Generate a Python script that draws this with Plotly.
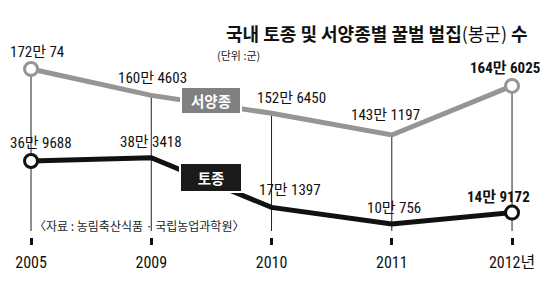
import plotly.graph_objects as go

# ---- data ----
years = ["2005", "2009", "2010", "2011", "2012"]
tick_labels = ["2005", "2009", "2010", "2011", "2012년"]
western = [1720074, 1604603, 1526450, 1431197, 1646025]   # 서양종
native = [369688, 383418, 171397, 100756, 149172]          # 토종


def fmt(v):
    return f"{v // 10000}만 {v % 10000}"


# ---- styles ----
NUM_FONT = "Liberation Sans Narrow, Roboto Condensed, Arial Narrow, Liberation Sans, Noto Sans CJK KR"
KR_FONT = "Noto Sans CJK KR, Noto Sans, sans-serif"
GRAY = "#959595"
BLACK = "#111111"

# axis ranges (broken-axis style: two y axes with matching scale)
y1_range = [752896, 2022043]
y2_range = [-181594, 1057722]
H = 290

fig = go.Figure()

# vertical guide lines (behind)
bottom_val = y1_range[1] - (231 / H) * (y1_range[1] - y1_range[0])
for i, w in enumerate(western):
    fig.add_shape(type="line", xref="x", yref="y", x0=i, x1=i, y0=w, y1=bottom_val,
                  line=dict(color="#222222", width=1), layer="below")

# lines
fig.add_trace(go.Scatter(x=years, y=western, mode="lines",
                         line=dict(color=GRAY, width=5), yaxis="y", hoverinfo="skip"))
fig.add_trace(go.Scatter(x=years, y=native, mode="lines",
                         line=dict(color=BLACK, width=5), yaxis="y2", hoverinfo="skip"))
# endpoint markers
fig.add_trace(go.Scatter(x=[years[0], years[-1]], y=[western[0], western[-1]], mode="markers",
                         marker=dict(size=13, color="white", line=dict(color=GRAY, width=3)),
                         yaxis="y", hoverinfo="skip"))
fig.add_trace(go.Scatter(x=[years[0], years[-1]], y=[native[0], native[-1]], mode="markers",
                         marker=dict(size=13, color="white", line=dict(color=BLACK, width=3)),
                         yaxis="y2", hoverinfo="skip"))

# value labels
w_shift = [(6, 17), (1, 17), (20, 15), (-6, 20), (-7, 18)]
n_shift = [(10, 18), (0, 16), (18, 17), (2, 16), (-14, 16)]
for i, v in enumerate(western):
    dx, dy = w_shift[i]
    bold = i == len(years) - 1
    fig.add_annotation(x=i, y=v, yref="y", text=(f"<b>{fmt(v)}</b>" if bold else fmt(v)),
                       showarrow=False, xshift=dx, yshift=dy,
                       font=dict(family=NUM_FONT, size=15, color="#111"))
for i, v in enumerate(native):
    dx, dy = n_shift[i]
    bold = i == len(years) - 1
    fig.add_annotation(x=i, y=v, yref="y2", text=(f"<b>{fmt(v)}</b>" if bold else fmt(v)),
                       showarrow=False, xshift=dx, yshift=dy,
                       font=dict(family=NUM_FONT, size=15, color="#111"))

# series badges
fig.add_annotation(x=1.5, y=(western[1] + western[2]) / 2, yref="y", text="<b>서양종</b>",
                   showarrow=False, yshift=4, bgcolor="#808080", bordercolor="white",
                   borderwidth=2, borderpad=2, font=dict(family=KR_FONT, size=14.5, color="white"),
                   width=54)
fig.add_annotation(x=1.5, y=(native[1] + native[2]) / 2, yref="y2", text="<b>토종</b>",
                   showarrow=False, yshift=5, bgcolor="#1a1a1a", bordercolor="white",
                   borderwidth=2, borderpad=3, font=dict(family=KR_FONT, size=14.5, color="white"),
                   width=54)

# title / subtitle / source
fig.add_annotation(xref="paper", yref="paper", x=530 / 548, y=1 - 33 / H, xanchor="right",
                   yanchor="middle", showarrow=False,
                   text="<b>국내 토종 및 서양종별 꿀벌 벌집</b>(봉군) <b>수</b>",
                   font=dict(family=KR_FONT, size=18, color="#111"))
fig.add_annotation(xref="paper", yref="paper", x=215 / 548, y=1 - 55 / H, xanchor="left",
                   yanchor="middle", showarrow=False, text="(단위 :군)",
                   font=dict(family=KR_FONT, size=11, color="#222"))
fig.add_annotation(xref="paper", yref="paper", x=32 / 548, y=1 - 225 / H, xanchor="left",
                   yanchor="middle", showarrow=False,
                   text="〈자료 : 농림축산식품 · 국립농업과학원〉",
                   font=dict(family=KR_FONT, size=12, color="#222"))

fig.update_layout(
    width=548, height=290, margin=dict(l=0, r=0, t=0, b=0),
    paper_bgcolor="white", plot_bgcolor="white", showlegend=False,
    xaxis=dict(type="category", range=[-0.258, 4.299], anchor="free", position=1 - 237 / H,
               showline=False, showgrid=False, zeroline=False,
               ticks="outside", ticklen=7, tickwidth=2.5, tickcolor="#111",
               tickvals=years, ticktext=tick_labels, automargin=False,
               ticklabelstandoff=4,
               tickfont=dict(family=NUM_FONT, size=16, color="#111")),
    yaxis=dict(range=y1_range, visible=False, fixedrange=True, automargin=False),
    yaxis2=dict(range=y2_range, visible=False, overlaying="y", fixedrange=True, automargin=False),
)

fig.write_html("out.html")
